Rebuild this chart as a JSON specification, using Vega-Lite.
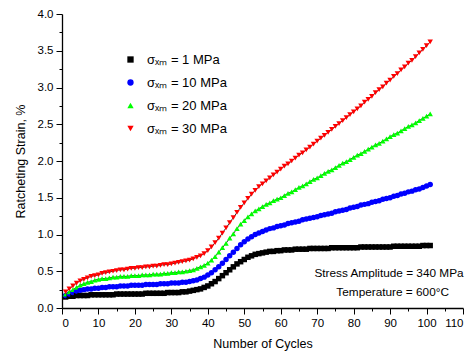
{
  "$schema": "https://vega.github.io/schema/vega-lite/v6.json",
  "width": 401,
  "height": 294,
  "autosize": "none",
  "padding": {"left": 62, "top": 14, "right": 12, "bottom": 48},
  "background": "white",
  "config": {
    "view": {"stroke": null},
    "font": "Liberation Sans",
    "axis": {
      "domainColor": "black",
      "domainWidth": 1.3,
      "tickColor": "black",
      "tickWidth": 1,
      "labelColor": "black",
      "labelFont": "Liberation Sans",
      "labelFontSize": 11.5,
      "titleColor": "black",
      "titleFont": "Liberation Sans",
      "titleFontSize": 12.5,
      "titleFontWeight": "normal",
      "grid": false
    }
  },
  "datasets": {
    "strain": [
      {"c":1,"s1":0.15,"s10":0.17,"s20":0.19,"s30":0.22},
      {"c":2,"s1":0.16,"s10":0.19,"s20":0.22,"s30":0.26},
      {"c":3,"s1":0.16,"s10":0.21,"s20":0.25,"s30":0.30},
      {"c":4,"s1":0.17,"s10":0.23,"s20":0.28,"s30":0.34},
      {"c":5,"s1":0.17,"s10":0.24,"s20":0.31,"s30":0.37},
      {"c":6,"s1":0.17,"s10":0.25,"s20":0.33,"s30":0.39},
      {"c":7,"s1":0.17,"s10":0.26,"s20":0.35,"s30":0.41},
      {"c":8,"s1":0.18,"s10":0.26,"s20":0.36,"s30":0.43},
      {"c":9,"s1":0.18,"s10":0.27,"s20":0.38,"s30":0.44},
      {"c":10,"s1":0.18,"s10":0.27,"s20":0.39,"s30":0.45},
      {"c":11,"s1":0.18,"s10":0.28,"s20":0.40,"s30":0.47},
      {"c":12,"s1":0.18,"s10":0.28,"s20":0.40,"s30":0.48},
      {"c":13,"s1":0.18,"s10":0.29,"s20":0.41,"s30":0.49},
      {"c":14,"s1":0.18,"s10":0.29,"s20":0.42,"s30":0.50},
      {"c":15,"s1":0.19,"s10":0.29,"s20":0.42,"s30":0.51},
      {"c":16,"s1":0.19,"s10":0.30,"s20":0.43,"s30":0.52},
      {"c":17,"s1":0.19,"s10":0.30,"s20":0.43,"s30":0.52},
      {"c":18,"s1":0.19,"s10":0.30,"s20":0.43,"s30":0.53},
      {"c":19,"s1":0.19,"s10":0.31,"s20":0.44,"s30":0.54},
      {"c":20,"s1":0.19,"s10":0.31,"s20":0.44,"s30":0.54},
      {"c":21,"s1":0.19,"s10":0.31,"s20":0.44,"s30":0.55},
      {"c":22,"s1":0.19,"s10":0.31,"s20":0.45,"s30":0.55},
      {"c":23,"s1":0.20,"s10":0.32,"s20":0.45,"s30":0.56},
      {"c":24,"s1":0.20,"s10":0.32,"s20":0.45,"s30":0.56},
      {"c":25,"s1":0.20,"s10":0.32,"s20":0.46,"s30":0.57},
      {"c":26,"s1":0.20,"s10":0.32,"s20":0.46,"s30":0.57},
      {"c":27,"s1":0.20,"s10":0.33,"s20":0.46,"s30":0.58},
      {"c":28,"s1":0.20,"s10":0.33,"s20":0.47,"s30":0.59},
      {"c":29,"s1":0.21,"s10":0.33,"s20":0.47,"s30":0.59},
      {"c":30,"s1":0.21,"s10":0.34,"s20":0.48,"s30":0.60},
      {"c":31,"s1":0.21,"s10":0.34,"s20":0.48,"s30":0.61},
      {"c":32,"s1":0.21,"s10":0.34,"s20":0.49,"s30":0.62},
      {"c":33,"s1":0.22,"s10":0.35,"s20":0.49,"s30":0.63},
      {"c":34,"s1":0.22,"s10":0.35,"s20":0.50,"s30":0.64},
      {"c":35,"s1":0.23,"s10":0.36,"s20":0.51,"s30":0.65},
      {"c":36,"s1":0.24,"s10":0.37,"s20":0.52,"s30":0.67},
      {"c":37,"s1":0.25,"s10":0.38,"s20":0.54,"s30":0.69},
      {"c":38,"s1":0.26,"s10":0.40,"s20":0.56,"s30":0.71},
      {"c":39,"s1":0.28,"s10":0.42,"s20":0.58,"s30":0.74},
      {"c":40,"s1":0.30,"s10":0.45,"s20":0.61,"s30":0.78},
      {"c":41,"s1":0.33,"s10":0.48,"s20":0.65,"s30":0.83},
      {"c":42,"s1":0.36,"s10":0.52,"s20":0.70,"s30":0.89},
      {"c":43,"s1":0.40,"s10":0.56,"s20":0.76,"s30":0.95},
      {"c":44,"s1":0.44,"s10":0.61,"s20":0.82,"s30":1.02},
      {"c":45,"s1":0.48,"s10":0.66,"s20":0.88,"s30":1.09},
      {"c":46,"s1":0.52,"s10":0.71,"s20":0.95,"s30":1.16},
      {"c":47,"s1":0.56,"s10":0.76,"s20":1.01,"s30":1.23},
      {"c":48,"s1":0.60,"s10":0.81,"s20":1.08,"s30":1.30},
      {"c":49,"s1":0.63,"s10":0.86,"s20":1.14,"s30":1.37},
      {"c":50,"s1":0.66,"s10":0.90,"s20":1.19,"s30":1.43},
      {"c":51,"s1":0.69,"s10":0.94,"s20":1.24,"s30":1.49},
      {"c":52,"s1":0.71,"s10":0.97,"s20":1.28,"s30":1.55},
      {"c":53,"s1":0.73,"s10":1.00,"s20":1.32,"s30":1.60},
      {"c":54,"s1":0.74,"s10":1.02,"s20":1.35,"s30":1.65},
      {"c":55,"s1":0.75,"s10":1.04,"s20":1.38,"s30":1.69},
      {"c":56,"s1":0.76,"s10":1.06,"s20":1.41,"s30":1.73},
      {"c":57,"s1":0.77,"s10":1.08,"s20":1.43,"s30":1.77},
      {"c":58,"s1":0.77,"s10":1.09,"s20":1.46,"s30":1.81},
      {"c":59,"s1":0.78,"s10":1.11,"s20":1.48,"s30":1.85},
      {"c":60,"s1":0.78,"s10":1.12,"s20":1.50,"s30":1.89},
      {"c":61,"s1":0.79,"s10":1.13,"s20":1.53,"s30":1.93},
      {"c":62,"s1":0.79,"s10":1.15,"s20":1.56,"s30":1.96},
      {"c":63,"s1":0.79,"s10":1.16,"s20":1.58,"s30":2.00},
      {"c":64,"s1":0.80,"s10":1.17,"s20":1.61,"s30":2.04},
      {"c":65,"s1":0.80,"s10":1.18,"s20":1.64,"s30":2.08},
      {"c":66,"s1":0.80,"s10":1.20,"s20":1.66,"s30":2.11},
      {"c":67,"s1":0.80,"s10":1.21,"s20":1.69,"s30":2.15},
      {"c":68,"s1":0.81,"s10":1.22,"s20":1.72,"s30":2.19},
      {"c":69,"s1":0.81,"s10":1.23,"s20":1.75,"s30":2.23},
      {"c":70,"s1":0.81,"s10":1.24,"s20":1.77,"s30":2.27},
      {"c":71,"s1":0.81,"s10":1.26,"s20":1.80,"s30":2.31},
      {"c":72,"s1":0.81,"s10":1.27,"s20":1.83,"s30":2.35},
      {"c":73,"s1":0.81,"s10":1.28,"s20":1.86,"s30":2.39},
      {"c":74,"s1":0.82,"s10":1.29,"s20":1.88,"s30":2.43},
      {"c":75,"s1":0.82,"s10":1.31,"s20":1.91,"s30":2.47},
      {"c":76,"s1":0.82,"s10":1.32,"s20":1.94,"s30":2.51},
      {"c":77,"s1":0.82,"s10":1.33,"s20":1.97,"s30":2.55},
      {"c":78,"s1":0.82,"s10":1.34,"s20":1.99,"s30":2.59},
      {"c":79,"s1":0.82,"s10":1.36,"s20":2.02,"s30":2.63},
      {"c":80,"s1":0.82,"s10":1.37,"s20":2.05,"s30":2.67},
      {"c":81,"s1":0.82,"s10":1.38,"s20":2.08,"s30":2.71},
      {"c":82,"s1":0.83,"s10":1.40,"s20":2.10,"s30":2.75},
      {"c":83,"s1":0.83,"s10":1.41,"s20":2.13,"s30":2.80},
      {"c":84,"s1":0.83,"s10":1.42,"s20":2.16,"s30":2.84},
      {"c":85,"s1":0.83,"s10":1.44,"s20":2.19,"s30":2.88},
      {"c":86,"s1":0.83,"s10":1.45,"s20":2.22,"s30":2.93},
      {"c":87,"s1":0.83,"s10":1.46,"s20":2.24,"s30":2.97},
      {"c":88,"s1":0.83,"s10":1.48,"s20":2.27,"s30":3.01},
      {"c":89,"s1":0.83,"s10":1.49,"s20":2.30,"s30":3.06},
      {"c":90,"s1":0.83,"s10":1.50,"s20":2.33,"s30":3.10},
      {"c":91,"s1":0.84,"s10":1.52,"s20":2.36,"s30":3.15},
      {"c":92,"s1":0.84,"s10":1.53,"s20":2.38,"s30":3.19},
      {"c":93,"s1":0.84,"s10":1.55,"s20":2.41,"s30":3.24},
      {"c":94,"s1":0.84,"s10":1.56,"s20":2.44,"s30":3.28},
      {"c":95,"s1":0.84,"s10":1.58,"s20":2.47,"s30":3.33},
      {"c":96,"s1":0.84,"s10":1.59,"s20":2.49,"s30":3.37},
      {"c":97,"s1":0.84,"s10":1.61,"s20":2.52,"s30":3.42},
      {"c":98,"s1":0.84,"s10":1.62,"s20":2.55,"s30":3.47},
      {"c":99,"s1":0.85,"s10":1.64,"s20":2.58,"s30":3.52},
      {"c":100,"s1":0.85,"s10":1.66,"s20":2.61,"s30":3.57},
      {"c":101,"s1":0.85,"s10":1.68,"s20":2.64,"s30":3.62}
    ]
  },
  "layer": [
    {
      "data": {"name": "strain"},
      "transform": [{"fold": ["s1", "s10", "s20", "s30"], "as": ["series", "strain"]}],
      "mark": {"type": "line", "color": "black", "strokeWidth": 0.8},
      "encoding": {
        "x": {
          "field": "c", "type": "quantitative",
          "scale": {"domain": [0, 110], "nice": false, "zero": false},
          "axis": {
            "orient": "bottom",
            "values": [0, 10, 20, 30, 40, 50, 60, 70, 80, 90, 100, 110],
            "tickSize": 6, "labelPadding": 3,
            "title": "Number of Cycles", "titlePadding": 9
          }
        },
        "y": {
          "field": "strain", "type": "quantitative",
          "scale": {"domain": [0, 4], "nice": false},
          "axis": {
            "orient": "left",
            "values": [0, 0.5, 1, 1.5, 2, 2.5, 3, 3.5, 4],
            "format": ".1f",
            "tickSize": 6, "labelPadding": 3,
            "title": "Ratcheting Strain, %", "titlePadding": 10
          }
        },
        "detail": {"field": "series", "type": "nominal"}
      }
    },
    {
      "data": {"name": "strain"},
      "transform": [{"fold": ["s1", "s10", "s20", "s30"], "as": ["series", "strain"]}],
      "mark": {"type": "point", "filled": true, "opacity": 1, "size": 30, "strokeWidth": 0},
      "encoding": {
        "x": {
          "field": "c", "type": "quantitative",
          "scale": {"domain": [0, 110], "nice": false, "zero": false},
          "axis": {
            "orient": "bottom",
            "values": [5, 15, 25, 35, 45, 55, 65, 75, 85, 95, 105],
            "tickSize": 3, "labels": false, "domain": false, "title": null
          }
        },
        "y": {
          "field": "strain", "type": "quantitative",
          "scale": {"domain": [0, 4], "nice": false},
          "axis": {
            "orient": "left",
            "values": [0.25, 0.75, 1.25, 1.75, 2.25, 2.75, 3.25, 3.75],
            "tickSize": 3, "labels": false, "domain": false, "title": null
          }
        },
        "color": {
          "field": "series", "type": "nominal",
          "scale": {"domain": ["s1", "s10", "s20", "s30"], "range": ["#000000", "#0000ff", "#00ff00", "#ff0000"]},
          "legend": {
            "title": null, "orient": "none", "legendX": 62, "legendY": 39, "padding": 0,
            "symbolSize": 40, "symbolStrokeWidth": 0, "labelOffset": 10, "rowPadding": 9,
            "labelFont": "Liberation Sans", "labelFontSize": 13, "labelColor": "black",
            "labelExpr": "'σₓₘ = ' + slice(datum.label, 1) + ' MPa'"
          }
        },
        "shape": {
          "field": "series", "type": "nominal",
          "scale": {"domain": ["s1", "s10", "s20", "s30"], "range": ["square", "circle", "triangle-up", "triangle-down"]},
          "legend": {
            "title": null, "orient": "none", "legendX": 62, "legendY": 39, "padding": 0,
            "symbolSize": 40, "symbolStrokeWidth": 0, "labelOffset": 10, "rowPadding": 9,
            "labelFont": "Liberation Sans", "labelFontSize": 13, "labelColor": "black",
            "labelExpr": "'σₓₘ = ' + slice(datum.label, 1) + ' MPa'"
          }
        }
      }
    },
    {
      "data": {"values": [{"note": "Stress Amplitude = 340 MPa"}]},
      "mark": {"type": "text", "font": "Liberation Sans", "fontSize": 11.8, "color": "black", "align": "center", "baseline": "middle"},
      "encoding": {
        "x": {"datum": 89.7, "type": "quantitative", "axis": null},
        "y": {"datum": 0.48, "type": "quantitative", "axis": null},
        "text": {"field": "note", "type": "nominal"}
      }
    },
    {
      "data": {"values": [{"note": "Temperature = 600°C"}]},
      "mark": {"type": "text", "font": "Liberation Sans", "fontSize": 11.8, "color": "black", "align": "center", "baseline": "middle"},
      "encoding": {
        "x": {"datum": 90.7, "type": "quantitative", "axis": null},
        "y": {"datum": 0.22, "type": "quantitative", "axis": null},
        "text": {"field": "note", "type": "nominal"}
      }
    }
  ],
  "resolve": {"axis": {"x": "independent", "y": "independent"}}
}
